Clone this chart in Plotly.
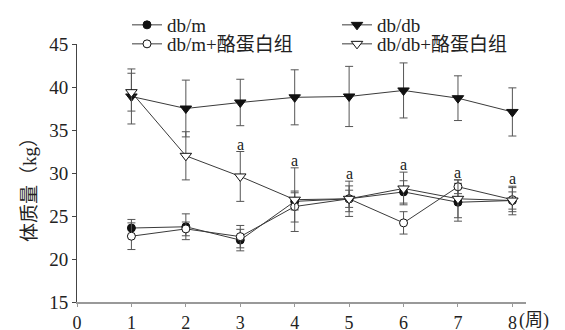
import plotly.graph_objects as go

weeks = [1, 2, 3, 4, 5, 6, 7, 8]
x_ticks = [0, 1, 2, 3, 4, 5, 6, 7, 8]
x_ticktext = ["0", "1", "2", "3", "4", "5", "6", "7", "8"]
y_ticks = [15, 20, 25, 30, 35, 40, 45]

dbm_mean = [23.6, 23.75, 22.2, 26.7, 27.0, 27.8, 26.6, 26.8]
dbm_sd = [1.0, 1.5, 1.25, 1.0, 1.0, 1.3, 2.2, 1.0]
dbdb_mean = [38.9, 37.5, 38.2, 38.8, 38.9, 39.6, 38.7, 37.1]
dbdb_sd = [3.2, 3.3, 2.7, 3.2, 3.5, 3.2, 2.6, 2.8]
dbmc_mean = [22.65, 23.5, 22.6, 26.1, 27.0, 24.2, 28.4, 26.9]
dbmc_sd = [1.55, 0.8, 1.3, 1.8, 1.5, 1.3, 0.8, 1.4]
dbdbc_mean = [39.4, 32.0, 29.6, 26.9, 27.0, 28.2, 27.0, 26.8]
dbdbc_sd = [2.2, 2.8, 2.9, 3.7, 2.05, 1.9, 2.2, 1.66]
sig_weeks = [3, 4, 5, 6, 7, 8]
sig_label = "a"

# page body has an 8px margin; figure is sized so the plot lands in place
OFF = 8
W, H = 565 - OFF, 330 - OFF
L, R, T, B = 77 - OFF, 39, 44 - OFF, 28
PW = W - L - R
PH = H - T - B

def px_x(px):  # px in window coordinates
    return (px - OFF - L) / PW

def px_y(py):
    return (H - B - (py - OFF)) / PH

SERIF = "Liberation Serif, Noto Sans CJK SC, serif"
LINE = "#3a3a3a"
ERR = "#555555"
TXT = "#222222"

fig = go.Figure()

def add(name, y, sd, symbol, fill, size, legend):
    fig.add_trace(go.Scatter(
        x=weeks, y=y, name=name, mode="lines+markers",
        line=dict(color=LINE, width=1),
        marker=dict(symbol=symbol, size=size, color=fill,
                    line=dict(color="#111111", width=1)),
        error_y=dict(type="data", array=sd, visible=True, color=ERR,
                     thickness=1, width=4),
        legend=legend,
    ))

add("db/m", dbm_mean, dbm_sd, "circle", "#111111", 8, "legend")
add("db/db", dbdb_mean, dbdb_sd, "triangle-down", "#111111", 10, "legend")
add("db/m+酪蛋白组", dbmc_mean, dbmc_sd, "circle", "#ffffff", 8, "legend2")
add("db/db+酪蛋白组", dbdbc_mean, dbdbc_sd, "triangle-down", "#ffffff", 10, "legend2")

for wk in sig_weeks:
    i = weeks.index(wk)
    fig.add_annotation(x=wk, y=dbdbc_mean[i] + dbdbc_sd[i], text=sig_label,
                       showarrow=False, yanchor="bottom", yshift=-3,
                       font=dict(family=SERIF, size=16, color=TXT))

fig.add_annotation(x=px_x(29), y=px_y(185), xref="paper", yref="paper",
                   xanchor="center", yanchor="middle",
                   text="体质量（kg）", textangle=-90, showarrow=False,
                   font=dict(family=SERIF, size=19, color=TXT))
fig.add_annotation(x=8, y=px_y(320), xref="x", yref="paper",
                   text="(周)", showarrow=False, xanchor="left", xshift=5,
                   yanchor="middle",
                   font=dict(family=SERIF, size=18, color=TXT))

leg = dict(orientation="h", xanchor="left", yanchor="middle",
           bgcolor="rgba(0,0,0,0)", entrywidth=165, entrywidthmode="pixels",
           font=dict(family=SERIF, size=19, color=TXT),
           itemclick=False, itemdoubleclick=False)

fig.update_layout(
    width=W, height=H,
    margin=dict(l=L, r=R, t=T, b=B, autoexpand=False),
    paper_bgcolor="white", plot_bgcolor="white",
    showlegend=True,
    legend=dict(leg, x=px_x(127), y=px_y(25)),
    legend2=dict(leg, x=px_x(127), y=px_y(44)),
    font=dict(family=SERIF, size=19, color=TXT),
    xaxis=dict(range=[0, 8.25], tickvals=x_ticks, ticktext=x_ticktext,
               showgrid=False, zeroline=False, showline=True,
               linecolor="#999999", linewidth=2, ticks="outside",
               ticklen=3, tickcolor="#999999", ticklabelstandoff=0,
               tickfont=dict(family=SERIF, size=18, color=TXT)),
    yaxis=dict(range=[15, 45], tickvals=y_ticks, showgrid=False,
               zeroline=False, showline=True, linecolor="#444444",
               linewidth=1, ticks="outside", ticklen=4, tickcolor="#444444",
               tickfont=dict(family=SERIF, size=19, color=TXT)),
)

fig.write_html("out.html")
